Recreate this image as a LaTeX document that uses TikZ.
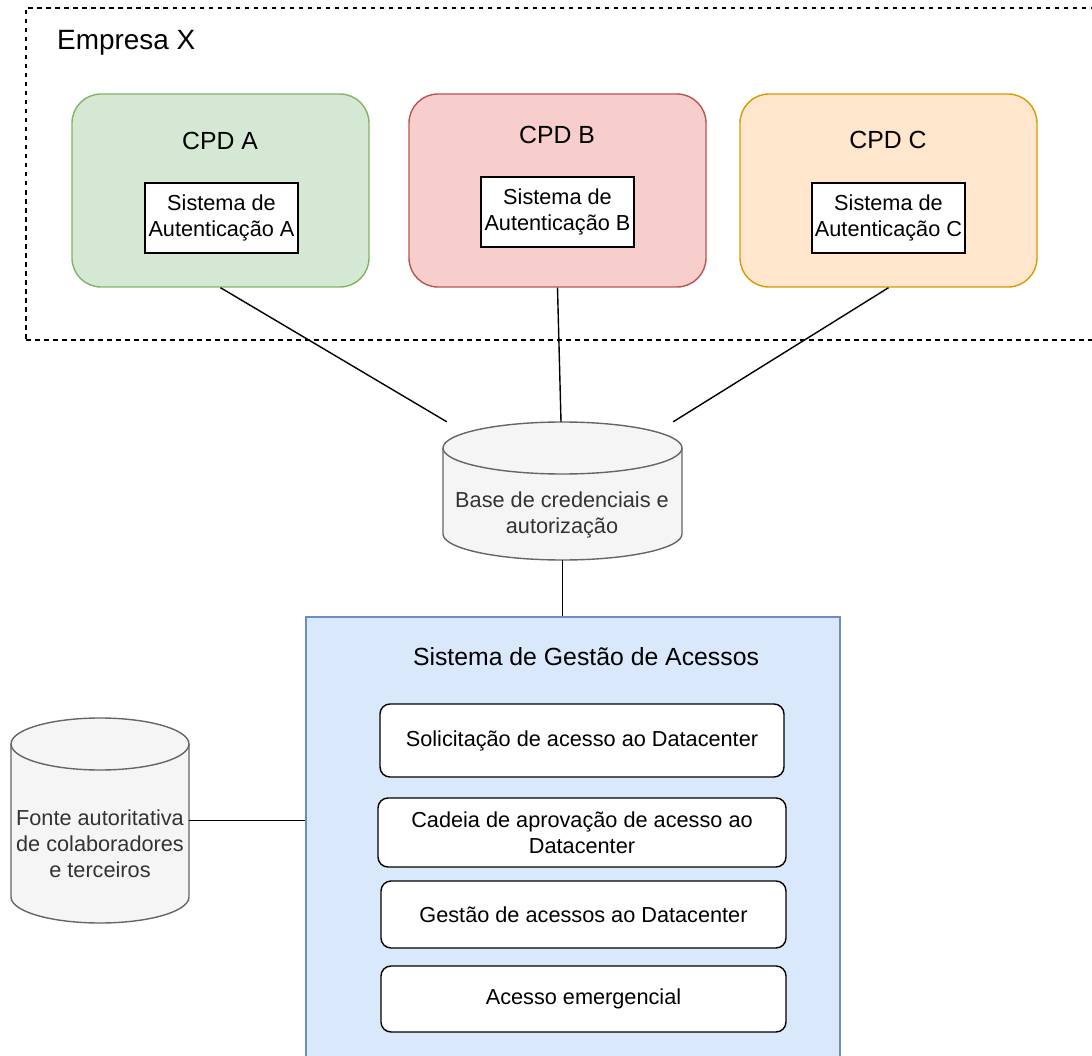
\documentclass[tikz,border=0pt]{standalone}
\usepackage{fontspec}
\setmainfont{Liberation Sans}

\definecolor{greenfill}{HTML}{D5E8D4}
\definecolor{greenline}{HTML}{82B366}
\definecolor{redfill}{HTML}{F8CECC}
\definecolor{redline}{HTML}{B85450}
\definecolor{orangefill}{HTML}{FFE6CC}
\definecolor{orangeline}{HTML}{D79B00}
\definecolor{bluefill}{HTML}{DAE8FC}
\definecolor{blueline}{HTML}{6C8EBF}
\definecolor{dbfill}{HTML}{F5F5F5}
\definecolor{dbline}{HTML}{666666}
\definecolor{dbtext}{HTML}{333333}

\newcommand{\fsnormal}{\fontsize{21.7}{26}\selectfont}
\newcommand{\fsmid}{\fontsize{24.8}{29.8}\selectfont}
\newcommand{\fsbig}{\fontsize{27.9}{33.5}\selectfont}

% database cylinder: x0, y0, x1, y1, end-cap y radius
\newcommand{\drawcyl}[5]{%
  \pgfmathsetmacro\cylrx{(#3-#1)/2}%
  \filldraw[dbbody] (#1,#2+#5) -- (#1,#4-#5)
    arc[start angle=180,end angle=0,x radius=\cylrx,y radius=#5]
    -- (#3,#2+#5)
    arc[start angle=0,end angle=-180,x radius=\cylrx,y radius=#5] -- cycle;
  \draw[dbbody] (#1,#2+#5)
    arc[start angle=180,end angle=0,x radius=\cylrx,y radius=#5];
}

\tikzset{
  lw/.style={line width=1.4pt},
  group/.style={draw=black, lw, dashed, dash pattern=on 4.5pt off 4.5pt, inner sep=0},
  cpd/.style={lw, rounded corners=29pt, minimum width=297pt, minimum height=193pt, inner sep=0},
  label/.style={inner sep=0, align=center},
  authbox/.style={draw=black, fill=white, lw, minimum width=153pt, minimum height=70pt,
    align=center, inner sep=0, font=\fsnormal},
  subbox/.style={draw=black, fill=white, lw, rounded corners=10pt, align=center,
    inner sep=0, font=\fsnormal},
  dbbody/.style={fill=dbfill, draw=dbline, lw},
  dbanchor/.style={inner sep=0, draw=none},
  dblabel/.style={inner sep=0, align=center, text=dbtext, font=\fsnormal},
  link/.style={draw=black, lw},
}

\begin{document}
\begin{tikzpicture}[x=1pt, y=-1pt]
  \useasboundingbox (0,0) rectangle (1092,1056);
  \clip (0,0) rectangle (1092,1056);

  % company boundary
  \node[group, minimum width=1084pt, minimum height=332pt] (empresa) at (568,174) {};
  \node[label, anchor=west, font=\fsbig] (empresalbl) at (57,43) {Empresa X};

  % data centres
  \node[cpd, fill=greenfill, draw=greenline] (cpdA) at (220.5,190.5) {};
  \node[cpd, fill=redfill, draw=redline] (cpdB) at (557.5,190.5) {};
  \node[cpd, fill=orangefill, draw=orangeline] (cpdC) at (888.5,190.5) {};

  \node[label, font=\fsmid] (cpdAlbl) at (220,141) {CPD A};
  \node[label, font=\fsmid] (cpdBlbl) at (557,135) {CPD B};
  \node[label, font=\fsmid] (cpdClbl) at (888,140) {CPD C};

  \node[authbox] (authA) at (221.5,218) {Sistema de\\Autenticação A};
  \node[authbox] (authB) at (557.5,212) {Sistema de\\Autenticação B};
  \node[authbox] (authC) at (888.5,218) {Sistema de\\Autenticação C};

  % credentials database
  \drawcyl{443}{422}{682}{560}{26}
  \node[dbanchor, minimum width=239pt, minimum height=138pt] (base) at (562.5,491) {};
  \node[dblabel] (baselbl) at (562,515) {Base de credenciais e\\autorização};

  % access management system
  \node[draw=blueline, fill=bluefill, lw, inner sep=0, minimum width=534pt,
        minimum height=463pt] (sga) at (573,848.5) {};
  \node[label, font=\fsmid] (sgalbl) at (586,657) {Sistema de Gestão de Acessos};

  \node[subbox, minimum width=404pt, minimum height=73pt] (sol) at (582,740.5)
    {Solicitação de acesso ao Datacenter};
  \node[subbox, minimum width=408pt, minimum height=69pt] (cad) at (582,832.5)
    {Cadeia de aprovação de acesso ao\\Datacenter};
  \node[subbox, minimum width=405pt, minimum height=67pt] (ges) at (583.5,914.5)
    {Gestão de acessos ao Datacenter};
  \node[subbox, minimum width=405pt, minimum height=66pt] (emg) at (583.5,999)
    {Acesso emergencial};

  % authoritative source
  \drawcyl{11}{718}{189}{923}{26}
  \node[dbanchor, minimum width=178pt, minimum height=205pt] (fonte) at (100,820.5) {};
  \node[dblabel] (fontelbl) at (100,844) {Fonte autoritativa\\de colaboradores\\e terceiros};

  % connectors
  \draw[link] (cpdA.south) -- ([xshift=4pt]base.north west);
  \draw[link] (cpdB.south) -- ([xshift=-1.5pt]base.north);
  \draw[link] (cpdC.south) -- ([xshift=-9pt]base.north east);
  \draw[link] (base.south) -- (base.south |- sga.north);
  \draw[link] (fonte.east) -- (fonte.east -| sga.west);
\end{tikzpicture}
\end{document}
